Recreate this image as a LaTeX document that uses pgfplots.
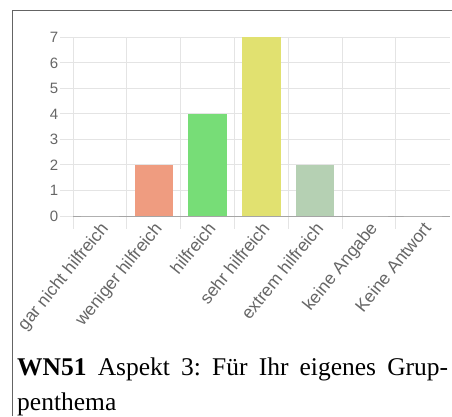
\documentclass[border=0pt]{standalone}
\usepackage{pgfplots}
\pgfplotsset{compat=1.18}
\usepackage{fontspec}
\setmainfont{Liberation Serif}
\newfontfamily\arialfont{Liberation Sans}
\frenchspacing
\definecolor{tickgray}{RGB}{102,102,102}
\definecolor{gridgray}{RGB}{228,228,228}
\definecolor{zerogray}{RGB}{165,165,165}
\definecolor{cA}{RGB}{239,156,128}
\definecolor{cB}{RGB}{119,221,119}
\definecolor{cC}{RGB}{225,225,112}
\definecolor{cD}{RGB}{181,208,179}
\definecolor{framegray}{RGB}{100,100,100}
\begin{document}
\begin{tikzpicture}
\path[use as bounding box] (0pt,0pt) rectangle (452pt,-416pt);
\draw[framegray, line width=1.5pt] (12.5pt,-416pt) -- (12.5pt,-10.5pt) -- (452pt,-10.5pt);
\begin{axis}[
  at={(73pt,-216pt)}, anchor=south west,
  scale only axis, width=376.8pt, height=178.7pt,
  xmin=-0.5, xmax=6.5, ymin=0, ymax=7,
  axis lines*=left,
  axis line style={-},
  x axis line style={zerogray, line width=1pt},
  y axis line style={gridgray, line width=1pt},
  tick align=outside,
  major tick length=13pt,
  xtick={-0.5,0.5,...,5.5},
  xticklabels={},
  xmajorgrids, ymajorgrids,
  grid style={gridgray, line width=1pt},
  tick style={gridgray, line width=1pt},
  ytick={0,1,...,7},
  extra x ticks={0,1,2,3,4,5,6},
  extra x tick labels={gar nicht hilfreich, weniger hilfreich, hilfreich, sehr hilfreich, extrem hilfreich, keine Angabe, Keine Antwort},
  extra x tick style={grid=none, tick style={draw=none}},
  /pgf/number format/assume math mode=true,
  yticklabel style={font=\arialfont\fontsize{15}{18}\selectfont, color=tickgray, inner sep=1.5pt},
  xticklabel style={font=\arialfont\fontsize{17.5}{20}\selectfont, color=tickgray, yshift=10pt, xshift=-1pt, rotate=51, anchor=north east, inner sep=1pt},
]
\addplot[ybar, bar shift=0pt, bar width=38.3pt, fill=white, draw=none] coordinates {(0,0) (5,0) (6,0)};
\addplot[ybar, bar shift=0pt, bar width=38.3pt, fill=cA, draw=none] coordinates {(1,2)};
\addplot[ybar, bar shift=0pt, bar width=38.3pt, fill=cB, draw=none] coordinates {(2,4)};
\addplot[ybar, bar shift=0pt, bar width=38.3pt, fill=cC, draw=none] coordinates {(3,7)};
\addplot[ybar, bar shift=0pt, bar width=38.3pt, fill=cD, draw=none] coordinates {(4,2)};
\end{axis}
\node[anchor=base west, inner sep=0] at (17pt,-375pt) {\fontsize{25.5}{30}\selectfont\makebox[431pt][s]{\textbf{WN51} Aspekt 3: Für Ihr eigenes Grup-}};
\node[anchor=base west, inner sep=0] at (17pt,-410pt) {\fontsize{25.5}{30}\selectfont penthema};
\end{tikzpicture}
\end{document}
